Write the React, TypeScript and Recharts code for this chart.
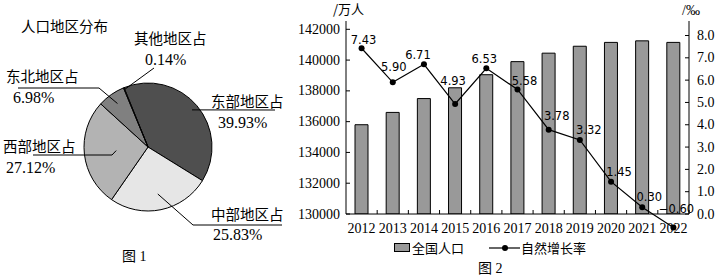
import React from 'react';
import {
  PieChart, Pie, Cell,
  ComposedChart, Bar, Line, XAxis, YAxis, LabelList,
} from 'recharts';

// 图1 人口地区分布
const regionNames = ['东部地区占', '中部地区占', '西部地区占', '东北地区占', '其他地区占'];
const regionShares = [39.93, 25.83, 27.12, 6.98, 0.14];

// 图2 全国人口 / 自然增长率
const years = ['2012', '2013', '2014', '2015', '2016', '2017', '2018', '2019', '2020', '2021', '2022'];
const population = [135800, 136600, 137500, 138200, 139050, 139900, 140450, 140900, 141150, 141250, 141150];
const growthRate = [7.43, 5.90, 6.71, 4.93, 6.53, 5.58, 3.78, 3.32, 1.45, 0.30, -0.60];

const popTicks = [130000, 132000, 134000, 136000, 138000, 140000, 142000];
const rateTicks = [0, 1, 2, 3, 4, 5, 6, 7, 8];

const pieData = regionNames.map((name, i) => ({ name, value: regionShares[i] }));
const barData = years.map((year, i) => ({ year, pop: population[i], rate: growthRate[i] }));

const sliceColors = ['#4f4f4f', '#e6e6e6', '#b3b3b3', '#808080', '#ffffff'];

const CJK = "'Noto Sans CJK SC', sans-serif";
const SERIF = "'Liberation Serif', 'Noto Sans CJK SC', serif";

// leader lines / text offsets relative to the pie centre
const pieLabelLayout = [
  { frac: 0.9, path: [[127, -37]], name: [63, -40], pct: [70, -19] },
  { frac: 0.75, path: [[45, 78], [134, 78]], name: [63, 73], pct: [65, 93] },
  { frac: 0.5, path: [[-36, 8], [-115, 8]], name: [-145, 5], pct: [-142, 26] },
  { frac: 0.83, path: [[-49, -59], [-130, -59]], name: [-142, -65], pct: [-135, -44] },
  { frac: 0.97, path: [[6, -79]], name: [-14, -103], pct: [-3, -82] },
];

// nudges for the rate labels (dx, gap above point)
const rateLabelDx = [2, 1, -6, -2, -2, 7, 8, 9, 8, 7, 3];
const rateLabelGap = [4, 11, 5, 19, 5, 5, 10, 6, 6, 6, 14];

const RAD = Math.PI / 180;

const renderPieLabel = (props: any) => {
  const { cx, cy, midAngle, outerRadius, index, value } = props;
  const l = pieLabelLayout[index];
  const r = outerRadius * l.frac;
  const sx = cx + r * Math.cos(-midAngle * RAD);
  const sy = cy + r * Math.sin(-midAngle * RAD);
  const pts = [[sx, sy], ...l.path.map(([dx, dy]) => [cx + dx, cy + dy])];
  return (
    <g>
      <polyline points={pts.map((p) => p.join(',')).join(' ')} fill="none" stroke="#000" strokeWidth={1} />
      <text x={cx + l.name[0]} y={cy + l.name[1]} fontSize={14.5} fontFamily={CJK} fill="#000">
        {regionNames[index]}
      </text>
      <text x={cx + l.pct[0]} y={cy + l.pct[1]} fontSize={16} fontFamily={SERIF} fill="#000">
        {value.toFixed(2)}%
      </text>
    </g>
  );
};

const YearTick = (props: any) => {
  const { x, y, payload } = props;
  const axisY = y - 8;
  const half = payload.offset || 15.5;
  return (
    <g>
      <line x1={x + half} x2={x + half} y1={axisY} y2={axisY - 4} stroke="#000" />
      <text x={x} y={y + 11} textAnchor="middle" fontSize={14} fontFamily={SERIF} fill="#000">
        {payload.value}
      </text>
    </g>
  );
};

const PopTick = (props: any) => {
  const { x, y, payload } = props;
  const axisX = x + 6;
  return (
    <g>
      <line x1={axisX} x2={axisX + 4} y1={y} y2={y} stroke="#000" />
      <text x={x} y={y} dy={4.6} textAnchor="end" fontSize={14} fontFamily={SERIF} fill="#000">
        {payload.value}
      </text>
    </g>
  );
};

const RateTick = (props: any) => {
  const { x, y, payload } = props;
  const axisX = x - 8;
  return (
    <g>
      <line x1={axisX} x2={axisX - 4} y1={y} y2={y} stroke="#000" />
      <text x={x} y={y} dy={4.6} textAnchor="start" fontSize={14} fontFamily={SERIF} fill="#000">
        {Number(payload.value).toFixed(1)}
      </text>
    </g>
  );
};

const RateLabel = (props: any) => {
  const { x, y, value, index } = props;
  const txt = value < 0 ? '\u2212' + Math.abs(value).toFixed(2) : Number(value).toFixed(2);
  return (
    <text
      x={x + rateLabelDx[index]}
      y={y - rateLabelGap[index]}
      textAnchor="middle"
      fontSize={11.5}
      fontFamily="'DejaVu Sans', sans-serif"
      fill="#000"
    >
      {txt}
    </text>
  );
};

const App = () => {
  return (
    <div style={{ position: 'absolute', left: 0, top: 0, width: 716, height: 277, background: '#fff' }}>
      <div style={{ position: 'absolute', left: 0, top: 0 }}>
        <PieChart width={290} height={277} margin={{ top: 0, right: 0, bottom: 0, left: 0 }}>
          <Pie
            data={pieData}
            dataKey="value"
            cx={148}
            cy={147}
            outerRadius={64}
            startAngle={112}
            endAngle={-248}
            stroke="#000"
            strokeWidth={1}
            label={renderPieLabel}
            labelLine={false}
            isAnimationActive={false}
          >
            {pieData.map((d, i) => (
              <Cell key={d.name} fill={sliceColors[i]} />
            ))}
          </Pie>
        </PieChart>
      </div>

      <div style={{ position: 'absolute', left: 290, top: 0 }}>
        <ComposedChart width={426} height={277} data={barData} margin={{ top: 21, right: 2, bottom: 33, left: 6 }}>
          <XAxis
            dataKey="year"
            height={30}
            axisLine={{ stroke: '#000' }}
            tickLine={false}
            tick={<YearTick />}
            interval={0}
          />
          <YAxis
            yAxisId="pop"
            width={50}
            domain={[130000, 142540]}
            ticks={popTicks}
            allowDataOverflow
            axisLine={{ stroke: '#000' }}
            tickLine={false}
            tickSize={4}
            tickMargin={2}
            tick={<PopTick />}
            interval={0}
          />
          <YAxis
            yAxisId="rate"
            orientation="right"
            width={25}
            domain={[0, 8.65]}
            ticks={rateTicks}
            allowDataOverflow
            axisLine={{ stroke: '#000' }}
            tickLine={false}
            tick={<RateTick />}
            interval={0}
          />
          <Bar
            yAxisId="pop"
            dataKey="pop"
            fill="#999999"
            stroke="#000"
            strokeWidth={1}
            barSize={13}
            isAnimationActive={false}
          />
        </ComposedChart>
      </div>

      {/* rate line drawn on its own scale so the negative point is not clipped */}
      <div style={{ position: 'absolute', left: 290, top: 0, pointerEvents: 'none' }}>
        <ComposedChart width={426} height={277} data={barData} margin={{ top: 21, right: 27, bottom: 49.6, left: 56 }}>
          <XAxis dataKey="year" hide scale="band" />
          <YAxis hide domain={[-0.6, 8.65]} />
          <Line
            dataKey="rate"
            stroke="#000"
            strokeWidth={1.2}
            dot={{ r: 3, fill: '#000', stroke: '#000', strokeWidth: 0 }}
            isAnimationActive={false}
          >
            <LabelList dataKey="rate" content={<RateLabel />} />
          </Line>
        </ComposedChart>
      </div>

      <svg width={716} height={277} style={{ position: 'absolute', left: 0, top: 0, pointerEvents: 'none' }}>
        <text x={21} y={32} fontSize={14.5} fontFamily={CJK} fill="#000">人口地区分布</text>
        <text x={122} y={261} fontSize={14} fontFamily={SERIF} fill="#000">图 1</text>

        <text x={333} y={14} fontSize={13} fontFamily={CJK} fill="#000">/万人</text>
        <text x={682} y={15} fontSize={14} fontFamily={SERIF} fill="#000">/‰</text>

        <rect x={394.5} y={243.5} width={15} height={8} fill="#999999" stroke="#000" strokeWidth={1} />
        <text x={412} y={253} fontSize={13} fontFamily={CJK} fill="#000">全国人口</text>
        <line x1={489} x2={520} y1={248} y2={248} stroke="#000" strokeWidth={1.2} />
        <circle cx={505} cy={248} r={3} fill="#000" />
        <text x={521} y={253} fontSize={13} fontFamily={CJK} fill="#000">自然增长率</text>

        <text x={478} y={273} fontSize={14} fontFamily={SERIF} fill="#000">图 2</text>
      </svg>
    </div>
  );
};

export default App;
